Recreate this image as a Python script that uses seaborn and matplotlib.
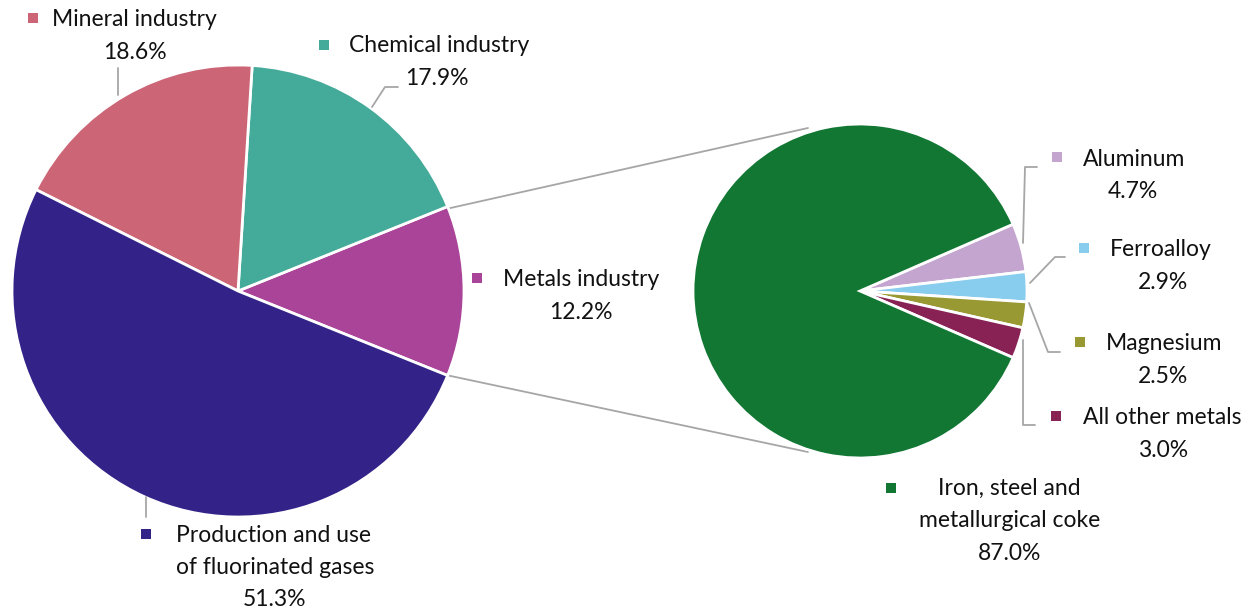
import seaborn as sns
import matplotlib.pyplot as plt
from matplotlib.patches import Rectangle

# sector shares (percent of industrial process emissions)
sector_labels = ["Metals industry", "Chemical industry", "Mineral industry",
                 "Production and use\nof fluorinated gases"]
sector_values = [12.2, 17.9, 18.6, 51.3]

# breakdown of the metals industry
metal_labels = ["Aluminum", "Ferroalloy", "Magnesium", "All other metals",
                "Iron, steel and\nmetallurgical coke"]
metal_values = [4.7, 2.9, 2.5, 3.0, 87.0]

sector_colors = ["#AA4499", "#44AA99", "#CC6677", "#332288"]
metal_colors = ["#C4A5CF", "#88CCEE", "#999933", "#882255", "#117733"]

W, H = 1260, 611
GRAY = "#A6A6A6"


def py(y):
    # pixel row (from top) -> data y (from bottom)
    return H - y


sns.set_theme(style="white")
plt.rcParams['font.family'] = ['Lato', 'DejaVu Sans']

fig = plt.figure(figsize=(W / 100, H / 100), dpi=100)
ax = fig.add_axes([0, 0, 1, 1])

# main pie, metals slice centred on the right side
main_c = (238, py(291))
main_r = 226
start = -sector_values[0] / 100 * 360 / 2
ax.pie(sector_values, colors=sector_colors, startangle=start, counterclock=True,
       center=main_c, radius=main_r, frame=True,
       wedgeprops={'edgecolor': 'white', 'linewidth': 2})

# secondary pie, small metals centred on the left-to-right axis
sub_c = (860, py(291))
sub_r = 167
small = sum(metal_values[:4])
ax.pie(metal_values, colors=metal_colors, startangle=small / 100 * 360 / 2,
       counterclock=False, center=sub_c, radius=sub_r, frame=True,
       wedgeprops={'edgecolor': 'white', 'linewidth': 2})
ax.set_xlim(0, W)
ax.set_ylim(0, H)
ax.set_aspect('equal')
ax.axis('off')

# connector lines between the two pies
ax.plot([446, 808], [py(209), py(128)], color=GRAY, lw=1.3, zorder=0)
ax.plot([446, 808], [py(375), py(452)], color=GRAY, lw=1.3, zorder=0)

# leader lines
leaders = [
    [(118, 68), (118, 95)],
    [(372, 107), (385, 87), (398, 87)],
    [(146, 497), (146, 517)],
    [(1023, 243), (1025, 167), (1037, 167)],
    [(1030, 283), (1055, 257), (1065, 257)],
    [(1029, 303), (1048, 352), (1060, 352)],
    [(1023, 340), (1023, 425), (1035, 425)],
]
for pts in leaders:
    ax.plot([p[0] for p in pts], [py(p[1]) for p in pts], color=GRAY, lw=1.3)

# label layout: square key position, centre x of each line, y of first line
sector_layout = [
    ((477, 278), [581, 581], 280),
    ((324, 45), [439, 437], 46),
    ((33, 18), [134, 135], 20),
    ((146, 534), [273, 275, 275], 535),
]
metal_layout = [
    ((1057, 157), [1134, 1133], 159),
    ((1084, 248), [1161, 1163], 250),
    ((1080, 342), [1164, 1163], 344),
    ((1056, 416), [1162, 1163], 418),
    ((891, 488), [1009, 1010, 1010], 488),
]

LINE = 32.5
FS = 16.5


def put_labels(labels, values, colors, layout):
    for lab, val, col, (sq, xs, y0) in zip(labels, values, colors, layout):
        lines = lab.split("\n") + ["{:.1f}%".format(val)]
        for i, (txt, x) in enumerate(zip(lines, xs)):
            ax.text(x, py(y0 + i * LINE), txt, ha='center', va='center',
                    fontsize=FS, color='#111111')
        ax.add_patch(Rectangle((sq[0] - 5, py(sq[1]) - 5), 10, 10,
                               facecolor=col, edgecolor='none'))


put_labels(sector_labels, sector_values, sector_colors, sector_layout)
put_labels(metal_labels, metal_values, metal_colors, metal_layout)

fig.savefig('out.png', dpi=100, facecolor='white')
plt.close(fig)
